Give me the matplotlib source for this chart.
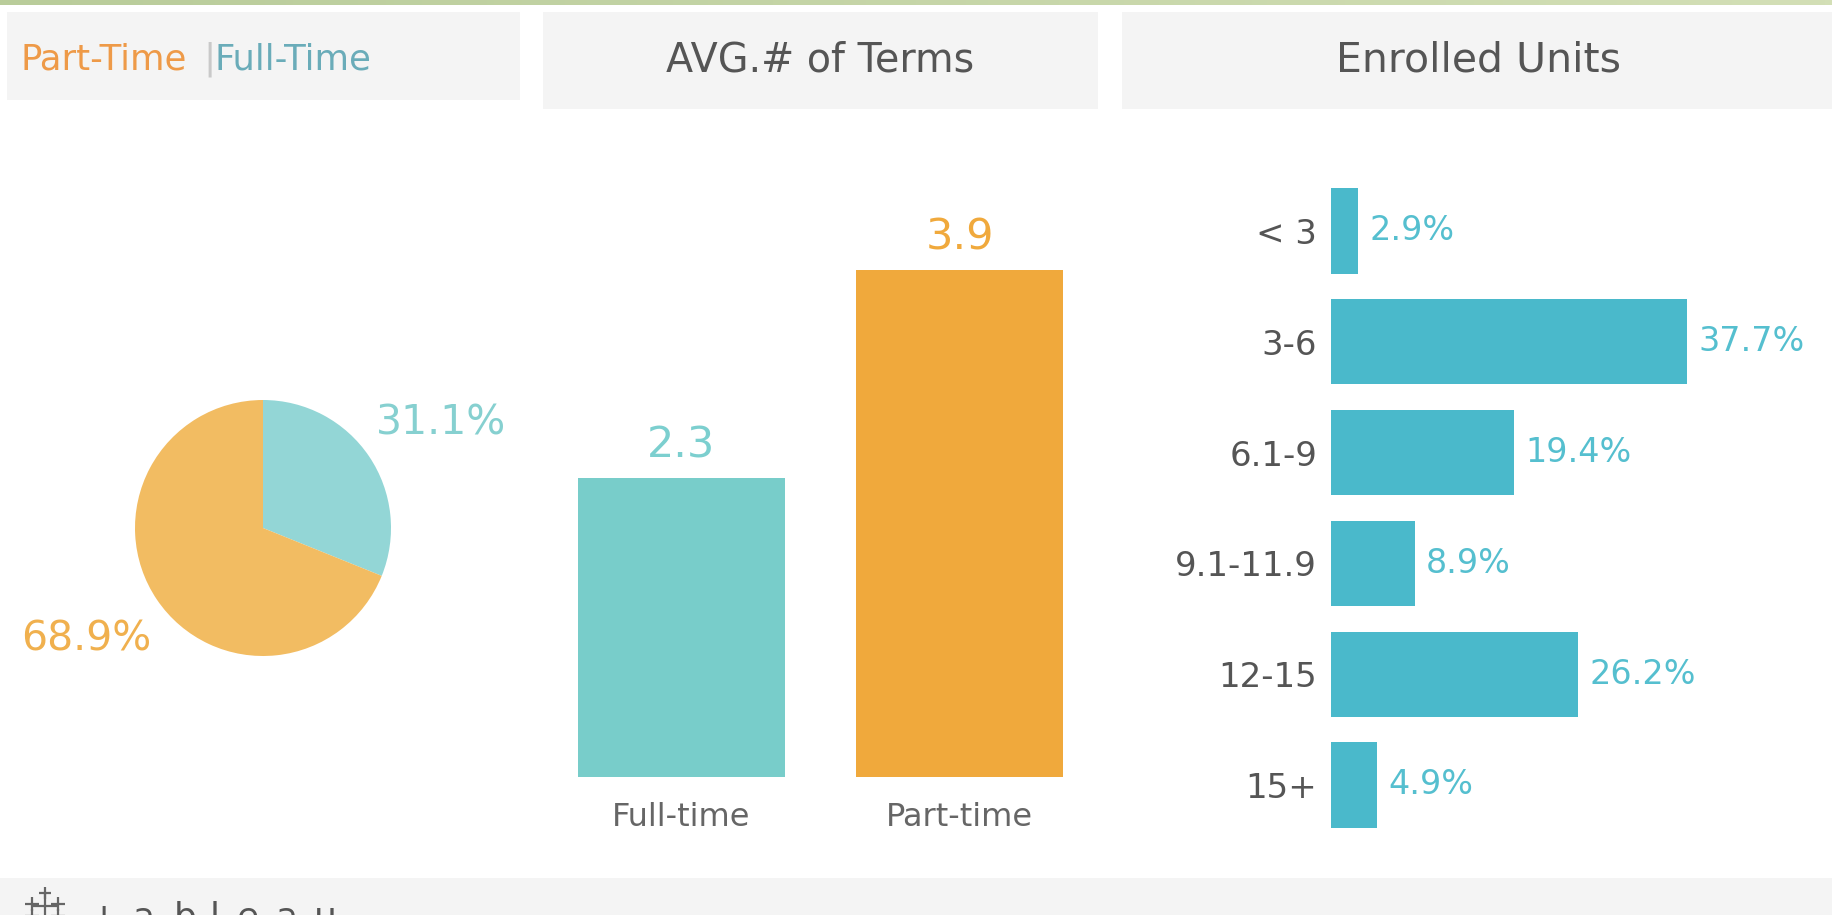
import matplotlib
matplotlib.use('Agg')
import matplotlib.pyplot as plt
import numpy as np
from matplotlib.patches import Rectangle

W, H = 1832, 915

# data
status = ['Full-time', 'Part-time']
status_share = [31.1, 68.9]
avg_terms = [2.3, 3.9]
unit_bins = ['< 3', '3-6', '6.1-9', '9.1-11.9', '12-15', '15+']
unit_share = [2.9, 37.7, 19.4, 8.9, 26.2, 4.9]

TEAL_PIE = '#93d6d6'
ORANGE_PIE = '#f2bc62'
TEAL_BAR = '#78cdca'
ORANGE_BAR = '#f0a93c'
BLUE_BAR = '#4ab9cb'
GRAY = '#555555'
PANEL = '#f4f4f4'

plt.rcParams['font.family'] = ['DejaVu Sans']

fig = plt.figure(figsize=(W / 100, H / 100), dpi=100)
fig.patch.set_facecolor('white')


def box(x0, y0, x1, y1):
    # pixel box (top-left origin) -> figure fraction rect
    return [x0 / W, 1 - y1 / H, (x1 - x0) / W, (y1 - y0) / H]


def panel(x0, y0, x1, y1, color):
    fig.patches.append(Rectangle((x0 / W, 1 - y1 / H), (x1 - x0) / W, (y1 - y0) / H,
                                 transform=fig.transFigure, facecolor=color,
                                 edgecolor='none', zorder=-5))


def ftext(x, y, s, **kw):
    fig.text(x / W, 1 - y / H, s, **kw)


# green strip on top
top = fig.add_axes(box(0, 0, W, 5))
grad = np.linspace(0, 1, 256).reshape(1, -1)
top.imshow(grad, aspect='auto', cmap=matplotlib.colors.LinearSegmentedColormap.from_list(
    'g', ['#b9cc9a', '#d3dfb6']))
top.axis('off')

# header panels
panel(7, 12, 520, 100, PANEL)
panel(543, 12, 1098, 109, PANEL)
panel(1122, 12, 1832, 109, PANEL)
panel(0, 878, W, H, PANEL)

ftext(21, 59, 'Part-Time', color='#ee9a48', fontsize=25.5, va='center')
ftext(203, 59, '|', color='#c9c9c9', fontsize=26, va='center')
ftext(214, 59, 'Full-Time', color='#6aacb9', fontsize=25.5, va='center')
ftext(820, 61, 'AVG.# of Terms', color=GRAY, fontsize=28.5, ha='center', va='center')
ftext(1478, 61, 'Enrolled Units', color=GRAY, fontsize=29.5, ha='center', va='center')

# pie: full-time vs part-time share
ax1 = fig.add_axes(box(0, 300, 520, 760))
ax1.pie(status_share, colors=[TEAL_PIE, ORANGE_PIE], startangle=90, counterclock=False,
        radius=1, wedgeprops=dict(linewidth=0))
ax1.set_xlim(-263 / 128, (520 - 263) / 128)
ax1.set_ylim(-(760 - 528) / 128, (528 - 300) / 128)
ax1.set_aspect('auto')
ax1.axis('off')
ax1.text(0.88, 0.82, f'{status_share[0]}%', color='#86d0d0', fontsize=29.5, ha='left', va='center')
ax1.text(-0.87, -0.87, f'{status_share[1]}%', color='#f0b04e', fontsize=29.5, ha='right', va='center')

# avg number of terms
ax2 = fig.add_axes(box(543, 120, 1098, 777))
x = np.arange(len(status))
ax2.bar(x, avg_terms, width=0.743, color=[TEAL_BAR, ORANGE_BAR])
ax2.set_xlim(-0.497, 1.496)
ax2.set_ylim(0, 657 / 130)
for s in ax2.spines.values():
    s.set_visible(False)
ax2.set_yticks([])
ax2.set_xticks(x)
ax2.set_xticklabels(status, fontsize=23, color='#666666')
ax2.tick_params(axis='x', length=0, pad=18)
for i, v in enumerate(avg_terms):
    ax2.annotate(f'{v}', (i, v), xytext=(0, 15), textcoords='offset points',
                 ha='center', va='baseline', fontsize=31,
                 color=['#7ccfcf', ORANGE_BAR][i])

# enrolled units distribution
ax3 = fig.add_axes(box(1331, 175.6, 1832, 840.4))
y = np.arange(len(unit_bins))
rects = ax3.barh(y, unit_share, height=0.77, color=BLUE_BAR)
ax3.set_ylim(len(unit_bins) - 0.5, -0.5)
ax3.set_xlim(0, 501 / 9.44)
for s in ax3.spines.values():
    s.set_visible(False)
ax3.set_xticks([])
ax3.set_yticks(y)
ax3.set_yticklabels(unit_bins, fontsize=24.5, color=GRAY)
ax3.tick_params(axis='y', length=0, pad=10)
ax3.bar_label(rects, labels=[f'{v}%' for v in unit_share], padding=8,
              fontsize=24, color='#55bfcf')

# tableau footer logo (cut off by the frame edge)
logo = fig.add_axes(box(0, 878, 400, H))
logo.set_xlim(0, 400)
logo.set_ylim(H, 878)
logo.axis('off')
for cx, cy, sz in [(45, 906, 20), (32, 904, 10), (58, 904, 10), (45, 893, 8),
                   (32, 916, 10), (58, 916, 10)]:
    logo.plot(cx, cy, marker='+', markersize=sz, color='#666666', mew=1.6, clip_on=False)
for ch, cx in zip(['+', 'a', 'b', 'l', 'e', 'a', 'u'], [103, 144, 185, 215, 248, 287, 325]):
    ftext(cx, 928, ch, fontsize=26, color=GRAY, ha='center', va='baseline')

fig.savefig('out.png', dpi=100)
